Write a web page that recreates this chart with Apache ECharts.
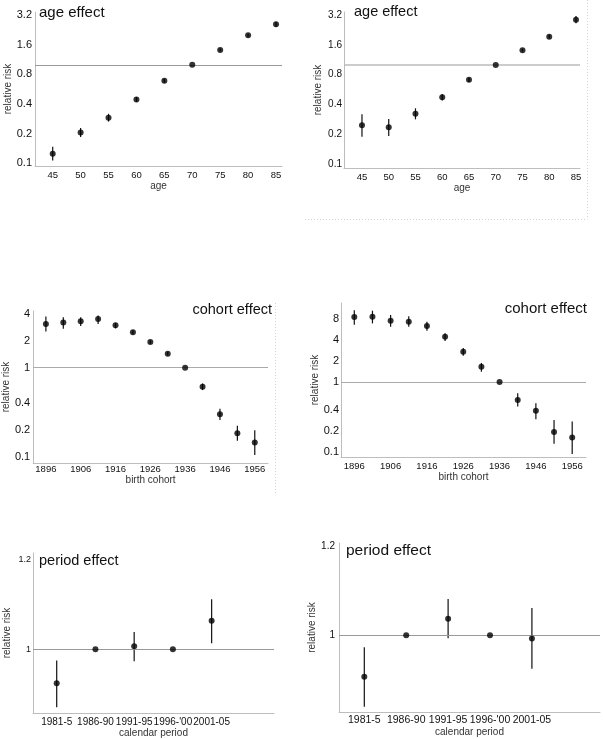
<!DOCTYPE html>
<html>
<head>
<meta charset="utf-8">
<script src="https://cdn.jsdelivr.net/npm/echarts@6/dist/echarts.min.js"></script>
<style>
  html, body { margin: 0; padding: 0; background: #fff; }
  #container { width: 603px; height: 739px; }
</style>
</head>
<body>
<div id="container"></div>
<script>
// age effect (two models)
const ages = [45, 50, 55, 60, 65, 70, 75, 80, 85];
const ageRR_A = [0.125, 0.205, 0.29, 0.445, 0.687, 1.0, 1.41, 1.99, 2.58];
const ageLo_A = [0.107, 0.185, 0.265, 0.42, 0.655, 1.0, 1.37, 1.92, 2.42];
const ageHi_A = [0.147, 0.228, 0.318, 0.47, 0.72, 1.0, 1.46, 2.06, 2.72];
const ageRR_B = [0.247, 0.236, 0.324, 0.474, 0.713, 1.0, 1.41, 1.93, 2.87];
const ageLo_B = [0.19, 0.193, 0.284, 0.44, 0.675, 1.0, 1.37, 1.85, 2.64];
const ageHi_B = [0.319, 0.286, 0.367, 0.51, 0.745, 1.0, 1.46, 2.02, 3.13];
const ageTicks = [0.1, 0.2, 0.4, 0.8, 1.6, 3.2];

// cohort effect
const cohorts = [1896, 1901, 1906, 1911, 1916, 1921, 1926, 1931, 1936, 1941, 1946, 1951, 1956];
const cohRR_A = [3.11, 3.22, 3.33, 3.54, 3.0, 2.5, 1.95, 1.44, 1.0, 0.61, 0.30, 0.183, 0.144];
const cohLo_A = [2.55, 2.75, 2.95, 3.1, 2.77, 2.37, 1.86, 1.37, 1.0, 0.56, 0.257, 0.15, 0.104];
const cohHi_A = [3.76, 3.7, 3.7, 3.86, 3.2, 2.64, 2.04, 1.51, 1.0, 0.665, 0.345, 0.222, 0.198];
const cohRR_B = [8.46, 8.55, 7.5, 7.26, 6.29, 4.43, 2.71, 1.65, 1.0, 0.553, 0.39, 0.194, 0.161];
const cohLo_B = [6.58, 6.85, 6.15, 6.15, 5.4, 3.84, 2.37, 1.4, 1.0, 0.445, 0.293, 0.131, 0.094];
const cohHi_B = [10.6, 10.4, 9.0, 8.7, 7.26, 4.94, 3.06, 1.87, 1.0, 0.69, 0.497, 0.287, 0.272];
const cohLabels = [1896, 1906, 1916, 1926, 1936, 1946, 1956];
const cohTicks_A = [0.1, 0.2, 0.4, 1, 2, 4];
const cohTicks_B = [0.1, 0.2, 0.4, 1, 2, 4, 8];

// period effect
const periods = ['1981-5', '1986-90', '1991-95', "1996-'00", '2001-05'];
const perRR_A = [0.924, 1.0, 1.0067, 1.0, 1.063];
const perLo_A = [0.871, 1.0, 0.973, 1.0, 1.013];
const perHi_A = [0.975, 1.0, 1.0385, 1.0, 1.111];
const perRR_B = [0.907, 1.0, 1.037, 1.0, 0.9925];
const perLo_B = [0.840, 1.0, 0.993, 1.0, 0.925];
const perHi_B = [0.973, 1.0, 1.081, 1.0, 1.061];
const perTicks = [1, 1.2];

const FONT = '"Liberation Sans", Arial, sans-serif';
const AXIS_GREY = '#bdbdbd';
const LABEL = '#111';

let dom = document.getElementById('container');
let myChart = echarts.init(dom, null, { renderer: 'canvas' });

// panel geometry (pixels) and axis extents
const panels = [
  { grid: [35, 12, 247, 154], x: [41.83, 86.07], y: [0.0939, 3.43], log: true,
    xName: 'age', xVals: ages, xTicks: ages, yTicks: ageTicks, rr: ageRR_A, lo: ageLo_A, hi: ageHi_A,
    yFs: 11, xFs: 9.5, xMargin: 4, xGap: 11, yGap: 22, yMargin: 3, ref: '#999', refW: 1 },
  { grid: [344, 12, 236, 156], x: [41.64, 85.75], y: [0.0918, 3.43], log: true,
    xName: 'age', xVals: ages, xTicks: ages, yTicks: ageTicks, rr: ageRR_B, lo: ageLo_B, hi: ageHi_B,
    yFs: 10, xFs: 9.5, xMargin: 4, xGap: 12, yGap: 21, yMargin: 2, ref: '#bbb', refW: 1.5 },
  { grid: [33, 311, 235, 152], x: [1892.35, 1959.8], y: [0.0845, 4.35], log: true,
    xName: 'birth cohort', xVals: cohorts, xTicks: cohLabels, yTicks: cohTicks_A, rr: cohRR_A, lo: cohLo_A, hi: cohHi_A,
    yFs: 11, xFs: 9.5, xMargin: 1, xGap: 7, yGap: 22, yMargin: 3, ref: '#aaa', refW: 1 },
  { grid: [341, 303, 245, 154], x: [1892.34, 1959.8], y: [0.085, 13.4], log: true,
    xName: 'birth cohort', xVals: cohorts, xTicks: cohLabels, yTicks: cohTicks_B, rr: cohRR_B, lo: cohLo_B, hi: cohHi_B,
    yFs: 11, xFs: 9.5, xMargin: 4, xGap: 13, yGap: 21, yMargin: 2, ref: '#aaa', refW: 1 },
  { grid: [33, 553, 241, 160], x: [-0.612, 5.61], y: [0.858, 1.214], log: false,
    xName: 'calendar period', xVals: periods.map((p, i) => i), xTicks: periods.map((p, i) => i), yTicks: perTicks,
    rr: perRR_A, lo: perLo_A, hi: perHi_A,
    yFs: 9, xFs: 10, xMargin: 4, xGap: 11, yGap: 21, yMargin: 2, ref: '#999', refW: 1 },
  { grid: [339, 543, 261, 169], x: [-0.604, 5.625], y: [0.828, 1.2066], log: false,
    xName: 'calendar period', xVals: periods.map((p, i) => i), xTicks: periods.map((p, i) => i), yTicks: perTicks,
    rr: perRR_B, lo: perLo_B, hi: perHi_B,
    yFs: 10, xFs: 10.5, xMargin: 3, xGap: 13, yGap: 21, yMargin: 4, ref: '#999', refW: 1 }
];

const grids = [], xAxes = [], yAxes = [], series = [];

panels.forEach(function (p, k) {
  grids.push({ left: p.grid[0], top: p.grid[1], width: p.grid[2], height: p.grid[3], containLabel: false });
  const isPeriod = k >= 4;
  xAxes.push({
    gridIndex: k, type: 'value', min: p.x[0], max: p.x[1],
    name: p.xName, nameLocation: 'middle', nameGap: p.xGap,
    nameTextStyle: { fontSize: 10, color: '#333', fontFamily: FONT },
    axisLine: { show: true, onZero: false, lineStyle: { color: AXIS_GREY, width: 1 } },
    axisTick: { show: false },
    splitLine: { show: false },
    axisLabel: {
      customValues: p.xTicks, margin: p.xMargin, fontSize: p.xFs, color: LABEL, fontFamily: FONT,
      showMinLabel: true, showMaxLabel: true, hideOverlap: false,
      formatter: function (v) { return isPeriod ? periods[Math.round(v)] : String(Math.round(v)); }
    }
  });
  yAxes.push({
    gridIndex: k, type: p.log ? 'log' : 'value', logBase: 2, min: p.y[0], max: p.y[1],
    name: 'relative risk', nameLocation: 'middle', nameGap: p.yGap,
    nameTextStyle: { fontSize: 10, color: '#333', fontFamily: FONT },
    axisLine: { show: true, onZero: false, lineStyle: { color: AXIS_GREY, width: 1 } },
    axisTick: { show: false },
    splitLine: { show: false },
    axisLabel: {
      customValues: p.yTicks, margin: p.yMargin, fontSize: p.yFs, color: LABEL, fontFamily: FONT,
      formatter: function (v) { return String(+Number(v).toPrecision(3)); }
    }
  });

  // error bars, with the reference line at 1 underneath the points
  series.push({
    type: 'custom', xAxisIndex: k, yAxisIndex: k, silent: true,
    data: p.xVals.map(function (x, i) { return [x, p.lo[i], p.hi[i]]; }),
    encode: { x: 0, y: [1, 2] },
    renderItem: function (params, api) {
      const a = api.coord([api.value(0), api.value(1)]);
      const b = api.coord([api.value(0), api.value(2)]);
      return { type: 'line', shape: { x1: a[0], y1: a[1], x2: b[0], y2: b[1] },
        style: { stroke: '#111', lineWidth: 1.2 } };
    },
    markLine: {
      silent: true, symbol: 'none', label: { show: false },
      lineStyle: { color: p.ref, width: p.refW, type: 'solid' },
      data: [{ yAxis: 1 }]
    },
    z: 3
  });
  // point estimates
  series.push({
    type: 'scatter', xAxisIndex: k, yAxisIndex: k, silent: true,
    symbol: 'circle', symbolSize: 6,
    itemStyle: { color: '#000' },
    data: p.xVals.map(function (x, i) { return [x, p.rr[i]]; }),
    z: 5
  });
});

const titleFont = function (s) { return s + 'px ' + FONT; };

option = {
  animation: false,
  backgroundColor: '#fff',
  textStyle: { fontFamily: FONT },
  grid: grids,
  xAxis: xAxes,
  yAxis: yAxes,
  series: series,
  graphic: {
    elements: [
      { type: 'text', x: 39, y: 13, style: { text: 'age effect', font: titleFont(15), fill: '#111', verticalAlign: 'middle' } },
      { type: 'text', x: 354, y: 12, style: { text: 'age effect', font: titleFont(14.5), fill: '#111', verticalAlign: 'middle' } },
      { type: 'text', x: 272, y: 310, style: { text: 'cohort effect', font: titleFont(14.5), fill: '#111', align: 'right', verticalAlign: 'middle' } },
      { type: 'text', x: 587, y: 309, style: { text: 'cohort effect', font: titleFont(15), fill: '#111', align: 'right', verticalAlign: 'middle' } },
      { type: 'text', x: 39, y: 561, style: { text: 'period effect', font: titleFont(14.5), fill: '#111', verticalAlign: 'middle' } },
      { type: 'text', x: 346, y: 551, style: { text: 'period effect', font: titleFont(15.5), fill: '#111', verticalAlign: 'middle' } },
      // dotted frame lines
      { type: 'line', shape: { x1: 587.5, y1: 0, x2: 587.5, y2: 219 }, style: { stroke: '#d4d4d4', lineWidth: 1, lineDash: [1, 2] } },
      { type: 'line', shape: { x1: 305, y1: 219.5, x2: 587.5, y2: 219.5 }, style: { stroke: '#d4d4d4', lineWidth: 1, lineDash: [1, 2] } },
      { type: 'line', shape: { x1: 275.5, y1: 303, x2: 275.5, y2: 495 }, style: { stroke: '#d4d4d4', lineWidth: 1, lineDash: [1, 2] } }
    ]
  }
};

myChart.setOption(option);
</script>
</body>
</html>
